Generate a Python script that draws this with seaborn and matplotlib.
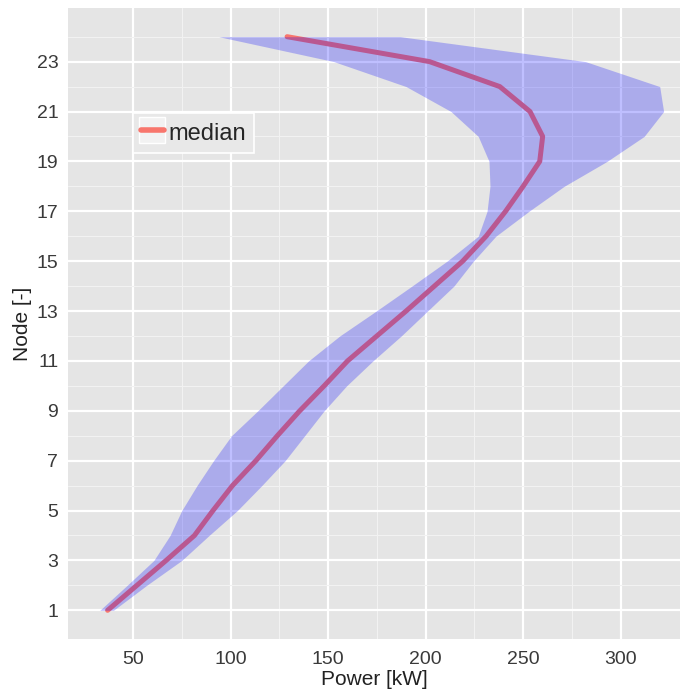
import numpy as np
import pandas as pd
import matplotlib
matplotlib.use("Agg")
import matplotlib.pyplot as plt
from matplotlib.lines import Line2D
from matplotlib.legend_handler import HandlerTuple
import seaborn as sns

# Power profile along the nodes: median and spread band
nodes = list(range(1, 25))
median_kw = [37, 52, 67, 81.5, 91, 101, 113, 124, 135.5, 148, 160, 175,
             190, 204.5, 219, 231, 241, 250, 258.5, 260, 253.5, 238, 202, 129]
lower_kw = [33, 47, 60.7, 69, 75, 82.8, 91.3, 100.5, 114, 127, 140, 156,
            174.7, 193, 211, 227, 231.5, 233, 232.5, 227, 213, 190, 153, 94]
upper_kw = [40, 57, 75, 89, 103.5, 116, 128, 138, 148, 159.5, 173, 187.5,
            201, 214.5, 224.5, 236, 253, 271, 293, 312, 322, 320, 282, 187]

x_ticks = [50, 100, 150, 200, 250, 300]
y_ticks = list(range(1, 24, 2))

df = pd.DataFrame({"node": nodes, "median": median_kw,
                   "lower": lower_kw, "upper": upper_kw})

sns.set_theme(style="darkgrid", rc={
    "axes.facecolor": "#E5E5E5",
    "grid.color": "white",
    "axes.edgecolor": "none",
})
plt.rcParams["font.family"] = ["Liberation Sans", "DejaVu Sans"]

fig = plt.figure(figsize=(6.81, 6.97), dpi=100)
ax = fig.add_axes([68 / 681, 58 / 697, 612 / 681, 631 / 697])

line_col = "#F8766D"
sns.lineplot(data=df, x="median", y="node", orient="y", sort=False,
             color=line_col, lw=3.6, ax=ax, zorder=3)
ax.fill_betweenx(df["node"], df["lower"], df["upper"],
                 color="blue", alpha=0.25, lw=0, zorder=4)

ax.set_xlim(16.7, 330.4)
ax.set_ylim(-0.15, 25.15)
ax.set_xticks(x_ticks)
ax.set_yticks(y_ticks)
ax.set_xticks([75, 125, 175, 225, 275], minor=True)
ax.set_yticks(list(range(2, 25, 2)), minor=True)
ax.grid(which="major", color="white", lw=1.6)
ax.grid(which="minor", color="#F2F2F2", lw=0.8)
ax.tick_params(axis="both", which="major", length=4, width=1,
               color="#333333", labelsize=14, labelcolor="#3A3A3A")
ax.tick_params(axis="x", which="major", pad=5)
ax.tick_params(axis="y", which="major", pad=3)
ax.tick_params(axis="both", which="minor", length=0)

ax.set_xlabel("Power [kW]", fontsize=15, color="#222222", labelpad=1)
ax.set_ylabel("Node [-]", fontsize=15, color="#222222", labelpad=3)

# legend key: light square with the line drawn across it
key_box = Line2D([], [], ls="none", marker="s", markersize=18.5,
                 markerfacecolor="#F2F2F2", markeredgecolor="white",
                 markeredgewidth=1)
key_line = Line2D([], [], color=line_col, lw=4)
leg = ax.legend([(key_box, key_line)], ["median"],
                handler_map={tuple: HandlerTuple(ndivide=1)},
                loc="upper left", bbox_to_anchor=(0.106, 0.834),
                fontsize=17, frameon=True, fancybox=False,
                handlelength=0.95, handleheight=1.0, handletextpad=0.2,
                borderpad=0.35, borderaxespad=0)
leg.get_frame().set_facecolor("#E8E8E8")
leg.get_frame().set_edgecolor("white")
leg.get_frame().set_linewidth(1.2)
leg.get_frame().set_alpha(1)
leg.set_zorder(6)

fig.savefig("out.png", dpi=100)
